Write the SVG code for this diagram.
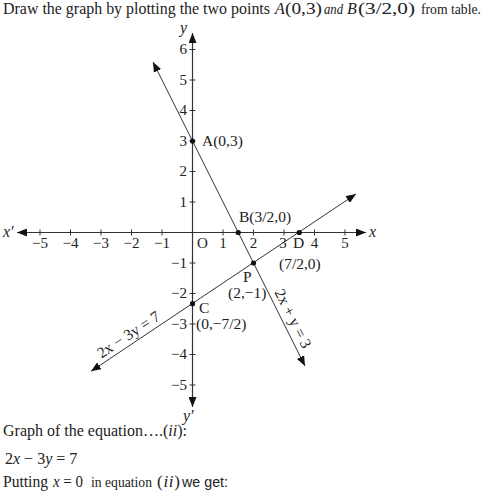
<svg xmlns="http://www.w3.org/2000/svg" width="486" height="496" viewBox="0 0 486 496">
<style>
.t{font-family:"Liberation Serif","Times New Roman",serif;fill:#222}
.s{font-family:"Liberation Sans",Arial,sans-serif;fill:#222}
.i{font-style:italic}
.n{font-size:15px}
.lb{font-size:15.5px}
.ax{stroke:#333;stroke-width:1.2;fill:none}
.ln{stroke:#333;stroke-width:1;fill:none}
.tk{stroke:#333;stroke-width:1}
.dot{fill:#111}
</style>
<defs>
<marker id="ar" viewBox="0 0 10 8" refX="10" refY="4" markerWidth="10" markerHeight="8" markerUnits="userSpaceOnUse" orient="auto-start-reverse">
<path d="M0,0 L10,4 L0,8 Z" fill="#111"/>
</marker>
</defs>
<rect width="486" height="496" fill="#fff"/>
<g id="header">
<text class="t" x="3" y="14" font-size="16" textLength="267" lengthAdjust="spacingAndGlyphs">Draw the graph by plotting the two points</text>
<text class="t i" x="275" y="14" font-size="16">A</text>
<text class="t" x="285" y="14" font-size="17" textLength="37" lengthAdjust="spacingAndGlyphs">(0,3)</text>
<text class="t i" x="324" y="14" font-size="15" textLength="19" lengthAdjust="spacingAndGlyphs">and</text>
<text class="t i" x="347" y="14" font-size="16">B</text>
<text class="t" x="358" y="14" font-size="17" textLength="57" lengthAdjust="spacingAndGlyphs">(3/2,0)</text>
<text class="t" x="421" y="14" font-size="15" textLength="60" lengthAdjust="spacingAndGlyphs">from table.</text>
</g>
<g id="axes">
<line class="ax" x1="17" y1="232.5" x2="366" y2="232.5" marker-start="url(#ar)" marker-end="url(#ar)"/>
<line class="ax" x1="192.5" y1="407" x2="192.5" y2="33" marker-start="url(#ar)" marker-end="url(#ar)"/>
<g class="tk">
<path d="M40,229.5v6M70.5,229.5v6M101,229.5v6M131.5,229.5v6M162,229.5v6M223,229.5v6M253.5,229.5v6M284,229.5v6M314.5,229.5v6M345,229.5v6"/>
<path d="M189.5,49.5h6M189.5,80h6M189.5,110.5h6M189.5,141h6M189.5,171.5h6M189.5,202h6M189.5,263h6M189.5,293.5h6M189.5,324h6M189.5,354.5h6M189.5,385h6"/>
</g>
<text class="t i" x="3" y="237" font-size="16">x′</text>
<text class="t i" x="369" y="237" font-size="16">x</text>
<text class="t i" x="180" y="33" font-size="16">y</text>
<text class="t i" x="183" y="421" font-size="16">y′</text>
<g class="t n" text-anchor="middle">
<text x="40" y="248">−5</text><text x="70.5" y="248">−4</text><text x="101" y="248">−3</text><text x="131.5" y="248">−2</text><text x="162" y="248">−1</text>
<text x="223" y="248">1</text><text x="253.5" y="248">2</text><text x="283" y="248">3</text><text x="314.5" y="248">4</text><text x="345" y="248">5</text>
</g>
<text class="t n" x="197" y="248">O</text>
<g class="t n" text-anchor="end">
<text x="187" y="54">6</text><text x="187" y="84.5">5</text><text x="187" y="115">4</text><text x="187" y="145.5">3</text><text x="187" y="176">2</text><text x="187" y="206.5">1</text>
<text x="187" y="267.5">−1</text><text x="187" y="298">−2</text><text x="187" y="328.5">−3</text><text x="187" y="359">−4</text><text x="187" y="389.5">−5</text>
</g>
</g>
<g id="connectors">
<line id="line1" class="ln" x1="305" y1="366" x2="153" y2="62" marker-start="url(#ar)" marker-end="url(#ar)"/>
<line id="line2" class="ln" x1="91" y1="371.3" x2="356" y2="194" marker-start="url(#ar)" marker-end="url(#ar)"/>
</g>
<g id="pointA"><circle class="dot" cx="192.5" cy="141" r="2.6"/><text class="t lb" x="202" y="146">A(0,3)</text></g>
<g id="pointB"><circle class="dot" cx="238.25" cy="232.5" r="2.6"/><text class="t lb" x="239" y="222">B(3/2,0)</text></g>
<g id="pointD"><circle class="dot" cx="299.25" cy="232.5" r="2.6"/><text class="t lb" x="293" y="248">D</text><text class="t lb" x="279" y="269">(7/2,0)</text></g>
<g id="pointP"><circle class="dot" cx="253.5" cy="263" r="2.6"/><text class="t lb" x="243" y="282">P</text><text class="t lb" x="228" y="298">(2,−1)</text></g>
<g id="pointC"><circle class="dot" cx="192.5" cy="303.7" r="2.6"/><text class="t lb" x="199" y="313">C</text><text class="t lb" x="196" y="329">(0,−7/2)</text></g>
<g id="eq2label"><text class="t lb" text-anchor="middle" transform="translate(134,343) rotate(-33.69)" y="-5">2x − 3y = 7</text></g>
<g id="eq1label"><text class="t lb" text-anchor="middle" transform="translate(284,323) rotate(63.43)" y="-5">2x + y = 3</text></g>
<g id="footer">
<text class="t" x="3" y="436" font-size="16">Graph of the equation….(<tspan class="i">ii</tspan>):</text>
<text class="t" x="5" y="464" font-size="16">2<tspan class="i">x</tspan> − 3<tspan class="i">y</tspan> = 7</text>
<text class="t" x="3" y="487" font-size="16" textLength="45" lengthAdjust="spacingAndGlyphs">Putting</text>
<text class="t" x="53" y="487" font-size="16" textLength="30" lengthAdjust="spacingAndGlyphs"><tspan class="i">x</tspan> = 0</text>
<text class="t" x="91" y="487" font-size="15" textLength="61" lengthAdjust="spacingAndGlyphs">in equation</text>
<text class="t" x="157" y="487" font-size="17" textLength="23" lengthAdjust="spacing">(<tspan class="i">ii</tspan>)</text>
<text class="s" x="182" y="487" font-size="15" textLength="46" lengthAdjust="spacingAndGlyphs">we get:</text>
</g>
</svg>
